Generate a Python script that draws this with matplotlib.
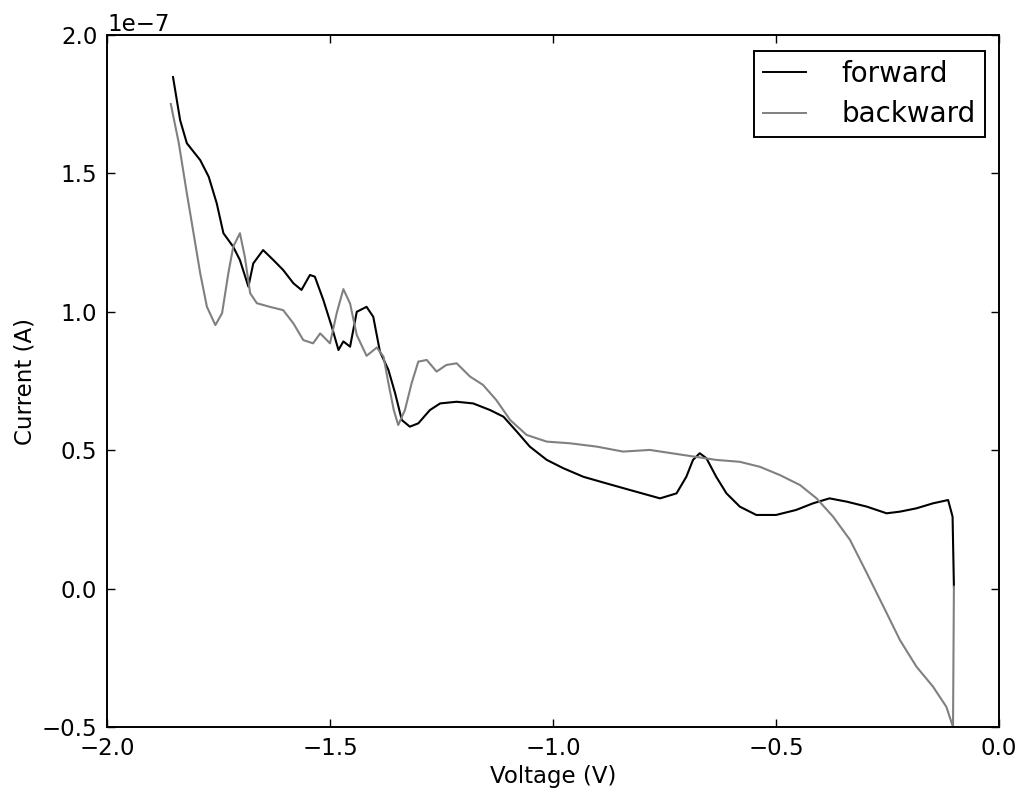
import numpy as np
import matplotlib
matplotlib.use("Agg")
import matplotlib.pyplot as plt

# Forward sweep (voltage in V, current in units of 1e-7 A)
forward_voltage = [-1.852, -1.836, -1.821, -1.791, -1.772, -1.754, -1.739, -1.717, -1.702,
                   -1.683, -1.672, -1.650, -1.627, -1.605, -1.582, -1.564, -1.545, -1.534,
                   -1.515, -1.496, -1.481, -1.470, -1.455, -1.440, -1.418, -1.403, -1.388,
                   -1.369, -1.354, -1.339, -1.321, -1.302, -1.276, -1.253, -1.216, -1.179,
                   -1.141, -1.111, -1.081, -1.052, -1.014, -0.977, -0.932, -0.880, -0.827,
                   -0.760, -0.723, -0.701, -0.686, -0.671, -0.656, -0.634, -0.611, -0.581,
                   -0.544, -0.500, -0.455, -0.417, -0.380, -0.341, -0.296, -0.252, -0.222,
                   -0.185, -0.148, -0.114, -0.104, -0.101]
forward_current = [1.848, 1.692, 1.609, 1.548, 1.488, 1.392, 1.284, 1.235, 1.187,
                   1.091, 1.175, 1.223, 1.187, 1.151, 1.103, 1.079, 1.133, 1.127,
                   1.043, 0.946, 0.862, 0.893, 0.874, 1.000, 1.018, 0.982, 0.856,
                   0.790, 0.706, 0.609, 0.585, 0.597, 0.645, 0.669, 0.675, 0.669,
                   0.645, 0.621, 0.567, 0.513, 0.465, 0.435, 0.404, 0.380, 0.356,
                   0.326, 0.344, 0.404, 0.465, 0.489, 0.471, 0.404, 0.344, 0.296,
                   0.266, 0.266, 0.284, 0.308, 0.326, 0.314, 0.296, 0.272, 0.278,
                   0.290, 0.308, 0.320, 0.260, 0.007]

# Backward sweep
backward_voltage = [-1.857, -1.839, -1.821, -1.806, -1.791, -1.776, -1.757, -1.742, -1.728,
                    -1.717, -1.702, -1.691, -1.679, -1.664, -1.635, -1.605, -1.582, -1.560,
                    -1.538, -1.522, -1.500, -1.485, -1.470, -1.455, -1.440, -1.418, -1.395,
                    -1.380, -1.369, -1.357, -1.347, -1.332, -1.317, -1.302, -1.283, -1.261,
                    -1.239, -1.216, -1.186, -1.157, -1.127, -1.096, -1.059, -1.014, -0.962,
                    -0.902, -0.843, -0.783, -0.709, -0.634, -0.581, -0.536, -0.491, -0.446,
                    -0.409, -0.372, -0.334, -0.296, -0.259, -0.222, -0.185, -0.148, -0.118,
                    -0.103, -0.101]
backward_current = [1.751, 1.609, 1.428, 1.284, 1.139, 1.018, 0.952, 0.995, 1.139,
                    1.235, 1.284, 1.199, 1.067, 1.031, 1.018, 1.006, 0.958, 0.898,
                    0.886, 0.922, 0.886, 0.995, 1.082, 1.030, 0.916, 0.841, 0.871,
                    0.838, 0.742, 0.645, 0.591, 0.645, 0.742, 0.820, 0.826, 0.784,
                    0.808, 0.814, 0.766, 0.736, 0.681, 0.609, 0.555, 0.531, 0.525,
                    0.513, 0.495, 0.501, 0.483, 0.465, 0.458, 0.440, 0.410, 0.374,
                    0.326, 0.260, 0.176, 0.055, -0.065, -0.186, -0.282, -0.354, -0.427,
                    -0.500, 0.007]

scale = 1e-7
x_ticks = [-2.0, -1.5, -1.0, -0.5, 0.0]
y_ticks = [-0.5e-7, 0.0, 0.5e-7, 1.0e-7, 1.5e-7, 2.0e-7]

plt.rcParams['font.family'] = ['DejaVu Sans']
plt.rcParams['axes.formatter.limits'] = (-5, 6)

fig = plt.figure(figsize=(10.29, 7.94), dpi=100, facecolor='white')
ax = fig.add_axes([0.104, 0.0844, 0.8668, 0.8715])

ax.plot(forward_voltage, np.array(forward_current) * scale, color='black', lw=1.5,
        label='forward', solid_joinstyle='round')
ax.plot(backward_voltage, np.array(backward_current) * scale, color='#808080', lw=1.5,
        label='backward', solid_joinstyle='round')

ax.set_xlim(-2.0, 0.0)
ax.set_ylim(-0.5e-7, 2.0e-7)
ax.set_xticks(x_ticks)
ax.set_yticks(y_ticks)
ax.tick_params(direction='in', top=True, right=True, length=6, width=1.0, labelsize=16.5, pad=7)
for s in ax.spines.values():
    s.set_linewidth(1.4)
ax.yaxis.get_offset_text().set_fontsize(16.5)

ax.set_xlabel('Voltage (V)', fontsize=16.5)
ax.set_ylabel('Current (A)', fontsize=16.5)

leg = ax.legend(loc='upper right', bbox_to_anchor=(985 / 1029, 1 - 51 / 794),
                bbox_transform=fig.transFigure, borderaxespad=0.0,
                fontsize=20, fancybox=False, framealpha=1,
                edgecolor='black', handlelength=1.55, borderpad=0.32, labelspacing=0.45,
                handletextpad=1.3)
leg.get_frame().set_linewidth(1.4)
for h in leg.get_lines():
    h.set_linewidth(1.4)

fig.savefig('out.png', dpi=100, facecolor='white')
